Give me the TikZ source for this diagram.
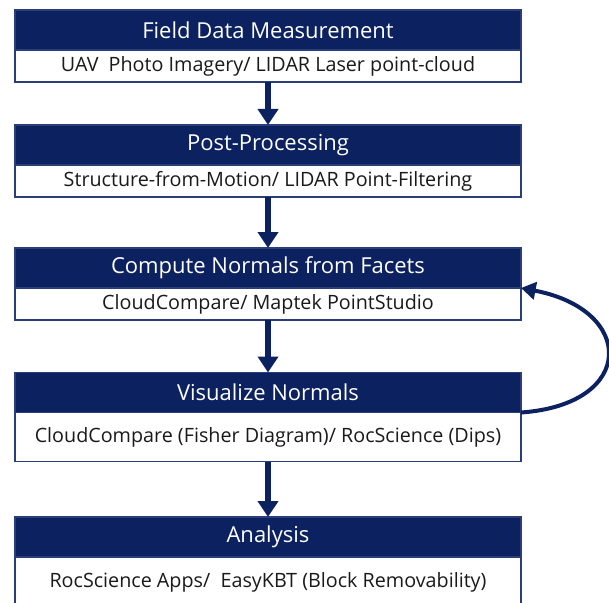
\documentclass[tikz,border=0pt]{standalone}
\usepackage{fontspec}
\setmainfont{Open Sans}
\usetikzlibrary{arrows.meta,positioning}
\definecolor{navyfill}{HTML}{0B2160}
\definecolor{navyedge}{HTML}{2A3F78}
\definecolor{ink}{HTML}{1A1A1A}

\begin{document}
\begin{tikzpicture}[
  x=0.75pt, y=-0.75pt,
  head/.style={draw=navyedge, fill=navyfill, line width=0.9pt, outer sep=0pt, minimum width=379.5pt,
    minimum height=30pt, inner sep=0pt, font=\fontsize{16.5}{19}\selectfont, text=white},
  detail/.style={draw=navyedge, fill=white, line width=0.9pt, outer sep=0pt, minimum width=379.5pt,
    minimum height=24pt, inner sep=0pt, font=\fontsize{14.8}{17}\selectfont, text=ink},
  arrow/.style={-{Triangle[width=15pt,length=12pt]}, line width=4.5pt, navyfill},
  loop/.style={-{Triangle[width=13pt,length=11pt]}, line width=3pt, navyfill}
]
  \useasboundingbox (0,0) rectangle (609,602);

  \node[head] (field) at (268,30) {Field Data Measurement};
  \node[detail, below=0pt of field] (fieldsub) {UAV~ Photo Imagery/ LIDAR Laser point-cloud};

  \node[head] (post) at (268,145) {Post-Processing};
  \node[detail, below=0pt of post] (postsub) {Structure-from-Motion/ LIDAR Point-Filtering};

  \node[head] (normals) at (268,268) {Compute Normals from Facets};
  \node[detail, below=0pt of normals] (normalssub) {CloudCompare/ Maptek PointStudio};

  \node[head] (visual) at (268,392.5) {Visualize Normals};
  \node[detail, below=0pt of visual, minimum height=36.75pt] (visualsub) {CloudCompare (Fisher Diagram)/ RocScience (Dips)};

  \node[head] (analysis) at (268,537) {Analysis};
  \node[detail, below=0pt of analysis, minimum height=37.5pt] (analysissub) {RocScience Apps/~ EasyKBT (Block Removability)};

  \draw[arrow] (fieldsub) -- (post);
  \draw[arrow] (postsub) -- (normals);
  \draw[arrow] (normalssub) -- (visual);
  \draw[arrow] (visualsub) -- (analysis);

  \draw[loop] (visualsub.north east) .. controls +(115,-8) and +(115,22) .. (normalssub.north east);
\end{tikzpicture}
\end{document}
